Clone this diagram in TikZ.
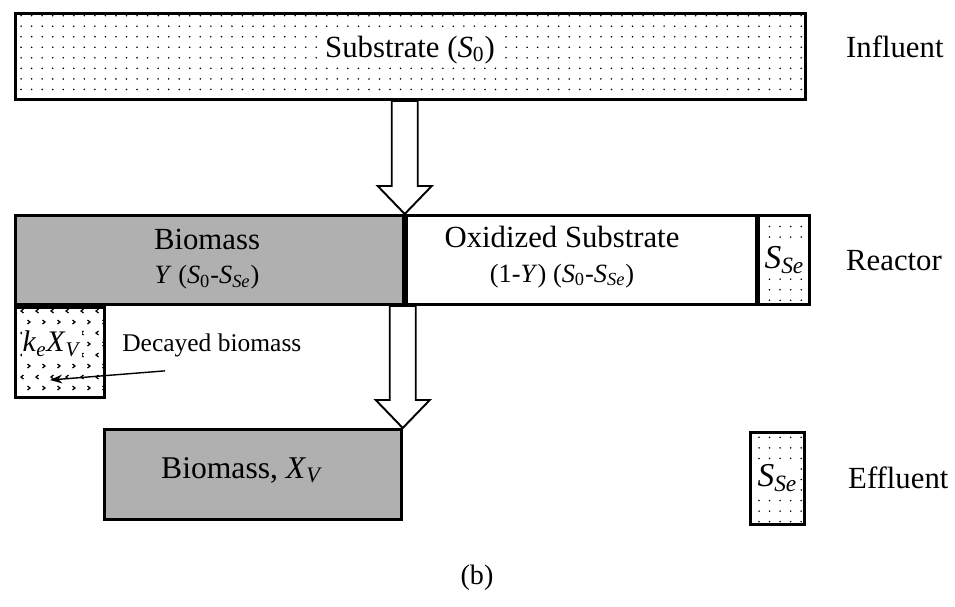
\documentclass[tikz,border=0pt]{standalone}
\usepackage{fontspec}
\setmainfont{Liberation Serif}
\usetikzlibrary{positioning, calc, patterns.meta, arrows.meta}

\newcommand{\Ssub}[1]{\textit{S}\textsubscript{#1}}
\newcommand{\fsz}[1]{\fontsize{#1}{#1}\selectfont}

\tikzset{
  box/.style={draw, line width=1.6pt, inner sep=0pt, anchor=north west},
  dotfill/.style={pattern={Dots[distance=6pt, radius=0.5pt]}},
  grayfill/.style={fill=gray!62},
  blk/.style={draw, line width=1.1pt, line join=miter},
  side/.style={anchor=base west, font=\fsz{17.5}},
}

% #1 = top of shaft, #2 = tip
\newcommand{\blockarrow}[2]{%
  \draw[blk] (#2) -- ($(#2)+(-27,-28)$) -- ($(#2)+(-13,-28)$) -- ($(#1)+(-13,0)$)
    -- ($(#1)+(13,0)$) -- ($(#2)+(13,-28)$) -- ($(#2)+(27,-28)$) -- cycle;}

\begin{document}
\begin{tikzpicture}[x=0.02cm, y=-0.02cm]
  \useasboundingbox (0,0) rectangle (955,606);

  % influent
  \node[box, dotfill, minimum width=15.8cm, minimum height=1.72cm] (sub) at (14,12) {};
  \node[fill=white, font=\fsz{17.5}, inner sep=1pt] (subtxt) at (410,50) {Substrate (\Ssub{0})};
  \node[side] (infl) at (840,57) {Influent};

  % reactor
  \node[box, grayfill, minimum width=7.76cm, minimum height=1.78cm] (bio) at (14,214) {};
  \node[align=center, font=\fsz{17.5}] (biotxt) at (207,259)
    {Biomass\\[2pt]{\fsz{15}\textit{Y} (\Ssub{0}-\Ssub{\textit{Se}})}};
  \node[box, minimum width=7.0cm, minimum height=1.78cm] (oxi) at (bio.north east) {};
  \node[align=center, font=\fsz{17.5}] (oxitxt) at (562,257)
    {Oxidized Substrate\\[2pt]{\fsz{15}(1-\textit{Y}) (\Ssub{0}-\Ssub{\textit{Se}})}};
  \node[box, dotfill, minimum width=1.02cm, minimum height=1.78cm] (sse) at (oxi.north east) {};
  \node[fill=white, inner sep=1pt, font=\fsz{19}] (ssetxt) at (sse) {\Ssub{\textit{Se}}};
  \node[side] (reac) at (840,270) {Reactor};

  % decayed biomass
  \node[box, minimum width=1.78cm, minimum height=1.8cm] (dec) at (bio.south west) {};
  \begin{scope}
    \clip (dec.south west) rectangle (dec.north east);
    \foreach \r in {0,...,7}
      \foreach \c in {0,...,5} {
        \pgfmathsetmacro{\cx}{22+15*\c+7*mod(\r,2)}
        \pgfmathsetmacro{\cy}{311+11*\r}
        \pgfmathsetmacro{\dir}{ifthenelse(mod(\r,2)==0,1,-1)}
        \draw[line width=.7pt] (\cx+1.5*\dir,\cy-2) -- (\cx-1*\dir,\cy) -- (\cx+1.5*\dir,\cy+2);
      }
  \end{scope}
  \node[fill=white, inner sep=0.5pt, font=\fsz{17}] (ktxt) at (52,344) {\textit{k}\textsubscript{\textit{e}}\textit{X}\textsubscript{\textit{V}}};
  \node[anchor=base west, inner sep=0pt, font=\fsz{14.5}] (dtxt) at (122,351) {Decayed biomass};
  \coordinate (kpt) at (50,380);
  \draw[-{Stealth[length=7pt, width=5pt]}, line width=0.8pt] ([shift={(43,14)}]dtxt.south west) -- (kpt);

  % effluent
  \node[box, grayfill, minimum width=5.94cm, minimum height=1.8cm] (bxv) at (103,428) {};
  \node[font=\fsz{18}] (bxvtxt) at (242,470) {Biomass, \textit{X}\textsubscript{\textit{V}}};
  \node[box, dotfill, minimum width=1.08cm, minimum height=1.84cm] (eff) at (749,431) {};
  \node[fill=white, inner sep=1pt, font=\fsz{19}] (efftxt) at (eff) {\Ssub{\textit{Se}}};
  \node[side] (effl) at (842,488) {Effluent};

  % block arrows
  \coordinate (a1top) at (bio.north east |- sub.south);
  \blockarrow{a1top}{bio.north east}
  \coordinate (a2top) at (bxv.north east |- bio.south);
  \blockarrow{a2top}{bxv.north east}

  \node[font=\fsz{16}] (cap) at (477,578) {(b)};
\end{tikzpicture}
\end{document}
